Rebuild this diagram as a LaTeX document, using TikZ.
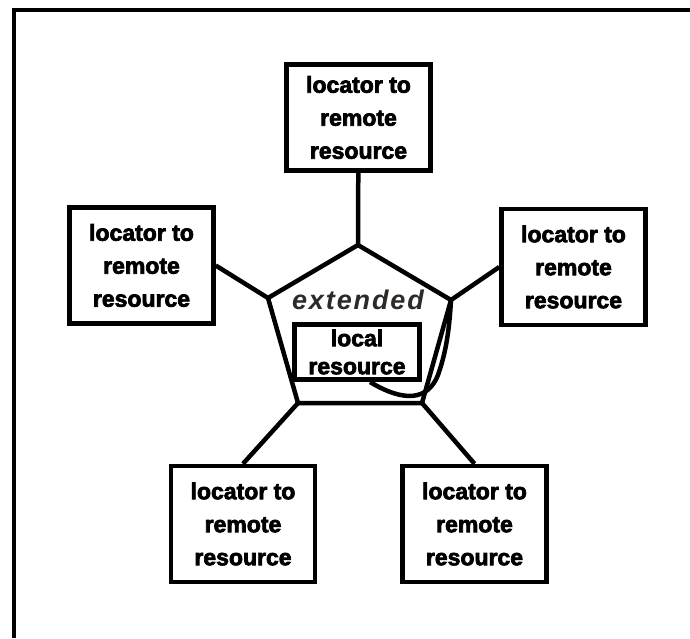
\documentclass[tikz,border=0pt]{standalone}
\usepackage{fontspec}
\setmainfont{Liberation Sans}[BoldFeatures={FakeBold=3}]
\usepackage{tikz}
\tikzstyle{locator} = [rectangle, draw=black, line width=4.5pt, minimum width=144pt, minimum height=116pt, inner sep=0pt, align=center, font=\fontsize{23}{33}\selectfont\bfseries]
\tikzstyle{link} = [line width=4.5pt]

\begin{document}
\begin{tikzpicture}[x=1pt,y=-1pt]
\useasboundingbox (0,0) rectangle (690,638);
\draw [line width=4pt] (14,638) -- (14,10) -- (690,10);

\node (top) [locator, minimum height=106pt] at (358.5,117.5) {locator to\\remote\\resource};
\node (left) [locator] at (141.5,265.5) {locator to\\remote\\resource};
\node (right) [locator] at (573.5,267) {locator to\\remote\\resource};
\node (botleft) [locator] at (243,524) {locator to\\remote\\resource};
\node (botright) [locator] at (474.5,524) {locator to\\remote\\resource};

\coordinate (p1) at (358,245);
\coordinate (p2) at (268,298);
\coordinate (p3) at (451,300);
\coordinate (p4) at (298,403);
\coordinate (p5) at (422,403);
\draw [link] (p1) -- (p3) -- (p5) -- (p4) -- (p2) -- cycle;

\node (ext) [font=\fontsize{27}{27}\selectfont\bfseries\itshape, text=black!90!olive] at (358,300) {\addfontfeature{LetterSpace=7}extended};
\node (local) [draw, line width=4.5pt, minimum width=125pt, minimum height=55pt, inner sep=0pt, align=center, font=\fontsize{23}{28}\selectfont\bfseries] at (357,352) {local\\resource};
\coordinate (loopstart) at (370,382);

\draw [link] (top) -- (p1);
\draw [link] (left.east) -- (p2);
\draw [link] (right.west) -- (p3);
\draw [link] (botleft.north) -- (p4);
\draw [link] (botright.north) -- (p5);
\draw [link] (loopstart) .. controls (405,403) and (428,400) .. (438,375) .. controls (445,355) and (449,335) .. (p3);
\end{tikzpicture}
\end{document}
